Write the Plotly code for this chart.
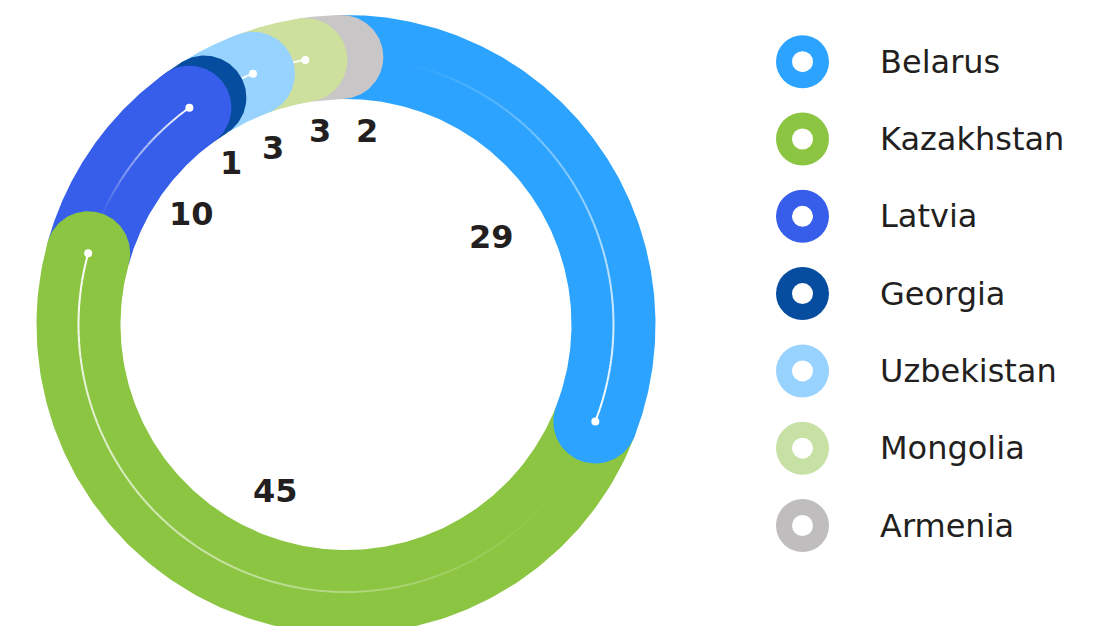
import numpy as np
import plotly.graph_objects as go

# ---- data -------------------------------------------------------------
countries = ["Belarus", "Kazakhstan", "Latvia", "Georgia", "Uzbekistan", "Mongolia", "Armenia"]
values = [29, 45, 10, 1, 3, 3, 2]

# ---- style ------------------------------------------------------------
ring_colors = ["#2CA3FE", "#8BC541", "#365EEA", "#064DA0", "#98D2FE", "#CEE09E", "#C8C6C7"]
legend_colors = ["#2CA3FE", "#8BC541", "#365EEA", "#064DA0", "#98D2FE", "#C6E1A3", "#BFBDBE"]
# small angular / radial nudges so the value labels don't collide
label_nudge_deg = [4.0, 4.4, 0.9, -1.6, 3.7, 6.9, 11.1]
label_radius = [170, 181, 190, 198, 191, 195, 195]

FONT = "DejaVu Sans"
TEXT_COLOR = "#231F20"

W, H = 1112, 626
CX, CY = 346, 324.5          # ring centre in page pixels
R_OUT, R_IN = 309.5, 225.5
R_MID = (R_OUT + R_IN) / 2
CAP = (R_OUT - R_IN) / 2     # round-cap radius
START_DEG = -1.0             # clockwise from 12 o'clock
CAP_DEG = np.degrees(CAP / R_MID)


def polar(r, deg):
    a = np.radians(deg)
    return r * np.sin(a), r * np.cos(a)


def page(xp, yp):
    """page pixel -> data coordinates (1 unit == 1 px)"""
    return xp - CX, CY - yp


total = sum(values)
spans = [v / total * 360 for v in values]
ends = list(START_DEG + np.cumsum(spans))
starts = [START_DEG] + ends[:-1]

fig = go.Figure()

# ring bands (no caps yet)
for a0, a1, col in zip(starts, ends, ring_colors):
    t = np.linspace(a0, a1, 200)
    xo, yo = polar(R_OUT, t)
    xi, yi = polar(R_IN, t[::-1])
    fig.add_trace(go.Scatter(
        x=np.concatenate([xo, xi]), y=np.concatenate([yo, yi]),
        fill="toself", fillcolor=col, mode="lines", line=dict(width=0),
        hoverinfo="skip"))

# round end caps, white track line and end dot, last segment first
for i in reversed(range(len(values))):
    a0, a1, col = starts[i], ends[i], ring_colors[i]
    cx, cy = polar(R_MID, a1)
    t = np.linspace(0, 2 * np.pi, 160)
    fig.add_trace(go.Scatter(
        x=cx + CAP * np.cos(t), y=cy + CAP * np.sin(t),
        fill="toself", fillcolor=col, mode="lines", line=dict(width=0),
        hoverinfo="skip"))

    ls = a0 + CAP_DEG
    if a1 - ls > 0.2:
        length_px = np.radians(a1 - ls) * R_MID
        n = max(1, int(np.ceil((a1 - ls) / 1.5)))
        edges = np.linspace(ls, a1, n + 1)
        for k in range(n):
            seg = np.linspace(edges[k], edges[k + 1], 6)
            d = np.radians(a1 - 0.5 * (edges[k] + edges[k + 1])) * R_MID
            alpha = max(0.0, 1 - 1.05 * d / max(length_px, 150))
            lx, ly = polar(R_MID, seg)
            fig.add_trace(go.Scatter(
                x=lx, y=ly, mode="lines",
                line=dict(color=f"rgba(255,255,255,{alpha:.3f})", width=2),
                hoverinfo="skip"))

    fig.add_trace(go.Scatter(
        x=[cx], y=[cy], mode="markers",
        marker=dict(color="white", size=8, line=dict(width=0)),
        hoverinfo="skip"))

# value labels
for i, v in enumerate(values):
    mid = 0.5 * (starts[i] + ends[i]) + label_nudge_deg[i]
    lx, ly = polar(label_radius[i], mid)
    fig.add_annotation(x=lx, y=ly, text=f"<b>{v}</b>", showarrow=False,
                       xanchor="center", yanchor="middle",
                       font=dict(family=FONT, size=32, color=TEXT_COLOR))

# legend
LEG_X, LEG_Y0, LEG_STEP, LEG_TEXT_X = 802.5, 61.7, 77.3, 878
leg_x, leg_y = zip(*[page(LEG_X, LEG_Y0 + LEG_STEP * i) for i in range(len(countries))])
fig.add_trace(go.Scatter(x=leg_x, y=leg_y, mode="markers",
                         marker=dict(color=legend_colors, size=53, line=dict(width=0)),
                         hoverinfo="skip"))
fig.add_trace(go.Scatter(x=leg_x, y=leg_y, mode="markers",
                         marker=dict(color="white", size=21, line=dict(width=0)),
                         hoverinfo="skip"))
for i, name in enumerate(countries):
    tx, ty = page(LEG_TEXT_X, LEG_Y0 + LEG_STEP * i)
    fig.add_annotation(x=tx, y=ty, text=name, showarrow=False,
                       xanchor="left", yanchor="middle",
                       font=dict(family=FONT, size=32, color=TEXT_COLOR))

fig.update_layout(
    width=W, height=H, margin=dict(l=0, r=0, t=0, b=0),
    paper_bgcolor="white", plot_bgcolor="white", showlegend=False,
    xaxis=dict(range=[-CX, W - CX], visible=False, fixedrange=True),
    yaxis=dict(range=[-(H - CY), CY], visible=False, fixedrange=True),
)

fig.write_html("out.html")
